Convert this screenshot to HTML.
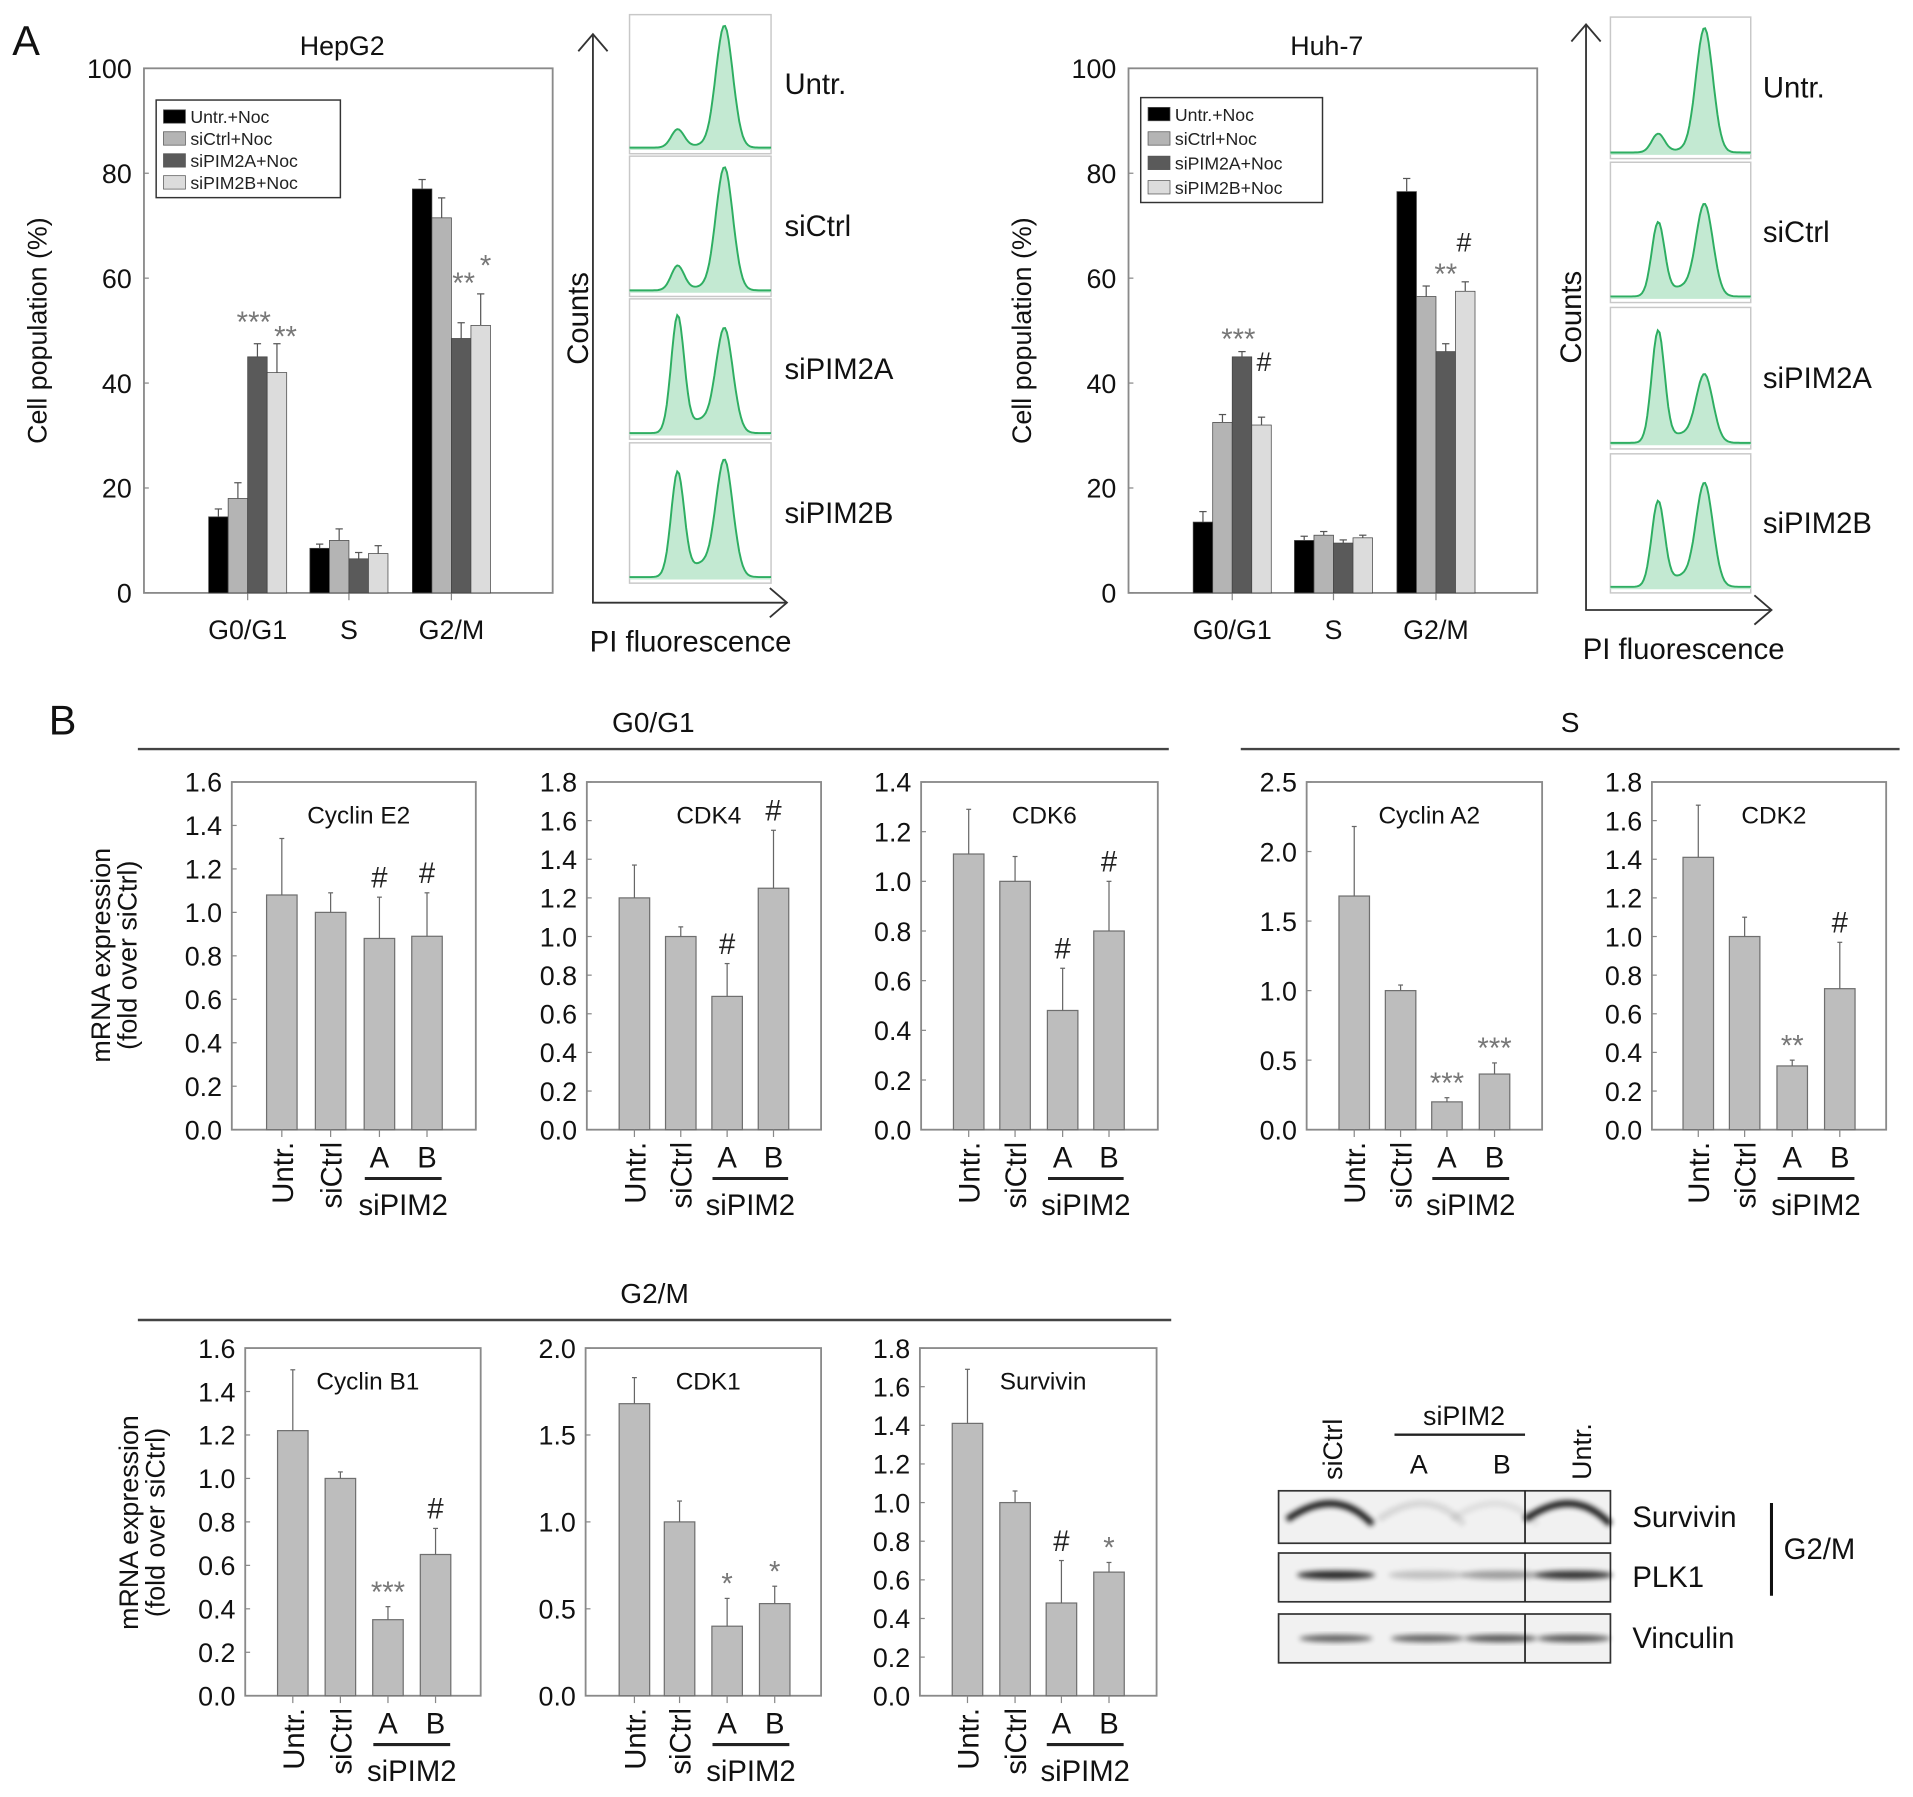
<!DOCTYPE html>
<html><head><meta charset="utf-8"><style>
html,body{margin:0;padding:0;background:#fff;}
svg{display:block;font-family:"Liberation Sans",Arial,sans-serif;}
</style></head><body>
<svg id="fig" xmlns="http://www.w3.org/2000/svg" width="1913" height="1797" viewBox="0 0 1568 1473" preserveAspectRatio="none">
<defs><filter id="blur" x="-20%" y="-50%" width="140%" height="200%"><feGaussianBlur stdDeviation="2.2"/></filter></defs>
<g id="root"></g>
</svg>
<script>
// ---------- Panel A data ----------
const phaseCategories = ['G0/G1', 'S', 'G2/M'];
const seriesNames = ['Untr.+Noc', 'siCtrl+Noc', 'siPIM2A+Noc', 'siPIM2B+Noc'];
const hepUntr = [14.5, 8.5, 77];
const hepCtrl = [18, 10, 71.5];
const hepPimA = [45, 6.5, 48.5];
const hepPimB = [42, 7.5, 51];
const hepUntrErr = [1.5, 0.8, 1.8];
const hepCtrlErr = [3, 2.2, 3.8];
const hepPimAErr = [2.5, 1.2, 3];
const hepPimBErr = [5.5, 1.5, 6];
const huhUntr = [13.5, 10, 76.5];
const huhCtrl = [32.5, 11, 56.5];
const huhPimA = [45, 9.5, 46];
const huhPimB = [32, 10.5, 57.5];
const huhUntrErr = [2, 0.8, 2.5];
const huhCtrlErr = [1.5, 0.7, 2];
const huhPimAErr = [1, 0.6, 1.5];
const huhPimBErr = [1.5, 0.5, 1.8];
const yTicksA = [0, 20, 40, 60, 80, 100];
const histSamples = ['Untr.', 'siCtrl', 'siPIM2A', 'siPIM2B'];
const hepG1Peak = [0.15, 0.2, 0.95, 0.85];
const hepG2Peak = [1.0, 1.0, 0.85, 0.95];
const huhG1Peak = [0.15, 0.6, 0.9, 0.7];
const huhG2Peak = [1.0, 0.75, 0.55, 0.85];

// ---------- Panel B data ----------
const conditions = ['Untr.', 'siCtrl', 'A', 'B'];
const cycE2 = [1.08, 1.0, 0.88, 0.89];      const cycE2Err = [0.26, 0.09, 0.19, 0.2];
const cdk4 = [1.2, 1.0, 0.69, 1.25];        const cdk4Err = [0.17, 0.05, 0.17, 0.3];
const cdk6 = [1.11, 1.0, 0.48, 0.8];        const cdk6Err = [0.18, 0.1, 0.17, 0.2];
const cycA2 = [1.68, 1.0, 0.2, 0.4];        const cycA2Err = [0.5, 0.04, 0.03, 0.08];
const cdk2 = [1.41, 1.0, 0.33, 0.73];       const cdk2Err = [0.27, 0.1, 0.03, 0.24];
const cycB1 = [1.22, 1.0, 0.35, 0.65];      const cycB1Err = [0.28, 0.03, 0.06, 0.12];
const cdk1 = [1.68, 1.0, 0.4, 0.53];        const cdk1Err = [0.15, 0.12, 0.16, 0.1];
const survivin = [1.41, 1.0, 0.48, 0.64];   const survivinErr = [0.28, 0.06, 0.22, 0.05];
const ticks16 = ['0.0','0.2','0.4','0.6','0.8','1.0','1.2','1.4','1.6'];
const ticks18 = ['0.0','0.2','0.4','0.6','0.8','1.0','1.2','1.4','1.6','1.8'];
const ticks14 = ['0.0','0.2','0.4','0.6','0.8','1.0','1.2','1.4'];
const ticks25 = ['0.0','0.5','1.0','1.5','2.0','2.5'];
const ticks20 = ['0.0','0.5','1.0','1.5','2.0'];

const NS = 'http://www.w3.org/2000/svg';
const root = document.getElementById('root');
function mk(tag, attrs, parent, txt) {
  const e = document.createElementNS(NS, tag);
  for (const k in attrs) e.setAttribute(k, attrs[k]);
  if (txt !== undefined) e.textContent = txt;
  (parent || root).appendChild(e);
  return e;
}
function label(x, y, s, size, anchor, parent, rot, fill) {
  const t = mk('text', {x: x, y: y, 'font-size': size, 'text-anchor': anchor || 'middle', fill: fill || '#111'}, parent, s);
  if (rot) t.setAttribute('transform', 'rotate(' + rot + ' ' + x + ' ' + y + ')');
  return t;
}

// ---------- Panel A bar charts ----------
const barFills = ['#000000', '#b4b4b4', '#5a5a5a', '#dcdcdc'];
function drawA(name, title, x0, x1, top, bottom, centers, series, errs, marks, legend) {
  const g = mk('g', {});
  
  
  const ys = v => bottom - v / 100 * (bottom - top);
  const t = label((x0 + x1) / 2 - 5, 45, title, 22, 'middle', g);
  
  
  mk('rect', {x: x0, y: top, width: x1 - x0, height: bottom - top, fill: 'none', stroke: '#8a8a8a', 'stroke-width': 1.5}, g);
  yTicksA.forEach(v => {
    const tk = label(x0 - 10, ys(v) + 8, String(v), 22, 'end', g);
    
    
    mk('line', {x1: x0, x2: x0 + 4, y1: ys(v), y2: ys(v), stroke: '#888'}, g);
  });
  const yt = label(x0 - 80, (top + bottom) / 2, 'Cell population (%)', 22, 'middle', g, -90);
  
  
  phaseCategories.forEach((c, i) => {
    const cx = centers[i];
    mk('line', {x1: cx, x2: cx, y1: bottom, y2: bottom + 6, stroke: '#888'}, g);
    const xl = label(cx, bottom + 38, c, 22, 'middle', g);
    
    
    series.forEach((s, j) => {
      const bx = cx - 32 + j * 16;
      const r = mk('rect', {x: bx, y: ys(s[i]), width: 16, height: bottom - ys(s[i]), fill: barFills[j], stroke: '#444', 'stroke-width': 0.6}, g);
      
      
      const ey = ys(s[i] + errs[j][i]);
      mk('line', {x1: bx + 8, x2: bx + 8, y1: ys(s[i]), y2: ey, stroke: '#555', 'stroke-width': 1}, g);
      mk('line', {x1: bx + 5, x2: bx + 11, y1: ey, y2: ey, stroke: '#555', 'stroke-width': 1}, g);
    });
  });
  marks.forEach(m => {
    const mt = label(m[0], m[1], m[2], m[2] === '#' ? 22 : 24, 'middle', g, 0, m[2] === '#' ? '#222' : '#777');
    
    
  });
  const lg = mk('g', {}, g);
  
  
  mk('rect', {x: legend[0], y: legend[1], width: legend[2], height: legend[3], fill: '#fff', stroke: '#333', 'stroke-width': 1.2}, lg);
  seriesNames.forEach((s, j) => {
    const ly = legend[1] + 8 + j * legend[4];
    mk('rect', {x: legend[0] + 6, y: ly, width: 18, height: 11, fill: barFills[j], stroke: '#555', 'stroke-width': 0.6}, lg);
    const le = label(legend[0] + 28, ly + 11, s, 14.5, 'start', lg, 0, '#222');
    
    
  });
}
drawA('hepg2-chart', 'HepG2', 118, 453, 56, 486, [203, 286, 370],
  [hepUntr, hepCtrl, hepPimA, hepPimB], [hepUntrErr, hepCtrlErr, hepPimAErr, hepPimBErr],
  [[208, 272, '***'], [234, 284, '**'], [380, 240, '**'], [398, 226, '*']], [128, 82, 151, 80, 18]);
drawA('huh7-chart', 'Huh-7', 925, 1260, 56, 486, [1010, 1093, 1177],
  [huhUntr, huhCtrl, huhPimA, huhPimB], [huhUntrErr, huhCtrlErr, huhPimAErr, huhPimBErr],
  [[1015, 286, '***'], [1036, 304, '#'], [1185, 233, '**'], [1200, 206, '#']], [935, 80, 149, 86, 20]);

// ---------- Histograms ----------
function drawHist(name, axX, axTop, axBottom, axRight, bx0, bx1, rows, g1, g2, labX) {
  const g = mk('g', {});
  
  
  mk('path', {d: 'M' + axX + ' ' + axTop + ' V' + axBottom + ' H' + axRight, fill: 'none', stroke: '#333', 'stroke-width': 1.5}, g);
  mk('path', {d: 'M' + (axX - 12) + ' ' + (axTop + 14) + ' L' + axX + ' ' + axTop + ' L' + (axX + 12) + ' ' + (axTop + 14), fill: 'none', stroke: '#333', 'stroke-width': 1.5}, g);
  mk('path', {d: 'M' + (axRight - 14) + ' ' + (axBottom - 12) + ' L' + axRight + ' ' + axBottom + ' L' + (axRight - 14) + ' ' + (axBottom + 12), fill: 'none', stroke: '#333', 'stroke-width': 1.5}, g);
  const c = label(axX - 4, (axTop + axBottom) / 2, 'Counts', 24, 'middle', g, -90);
  
  
  const p = label(axX + 80, axBottom + 40, 'PI fluorescence', 24, 'middle', g);
  
  
  histSamples.forEach((s, i) => {
    const y0 = rows[i][0], y1 = rows[i][1];
    const hg = mk('g', {}, g);
    
    
    mk('rect', {x: bx0, y: y0, width: bx1 - bx0, height: y1 - y0, fill: '#fff', stroke: '#c8c8c8', 'stroke-width': 1.2}, hg);
    const w = bx1 - bx0, h = y1 - y0 - 10, base = y1 - 3;
    let pts = [];
    for (let k = 0; k <= 80; k++) {
      const f = k / 80;
      const v = g1[i] * Math.exp(-Math.pow((f - 0.34) / 0.065, 2)) + g2[i] * Math.exp(-Math.pow((f - 0.67) / 0.085, 2)) + 0.02 + 0.06 * Math.exp(-Math.pow((f - 0.5) / 0.1, 2)) * Math.min(g1[i], g2[i]) * 2;
      pts.push((bx0 + f * w).toFixed(1) + ' ' + (base - v * (h - 4)).toFixed(1));
    }
    mk('path', {d: 'M' + pts.join(' L') + ' L' + bx1 + ' ' + base + ' L' + bx0 + ' ' + base + ' Z', fill: '#c3e9d2', stroke: 'none'}, hg);
    mk('path', {d: 'M' + pts.join(' L'), fill: 'none', stroke: '#2eae62', 'stroke-width': 1.6}, hg);
    const t = label(labX, (y0 + y1) / 2 + 8, s, 24, 'start', g);
    
    
  });
}
drawHist('hepg2-histograms', 486, 28, 494, 645, 516, 632, [[12, 126], [128, 243], [245, 360], [363, 478]], hepG1Peak, hepG2Peak, 643);
drawHist('huh7-histograms', 1300, 20, 500, 1452, 1320, 1435, [[14, 130], [133, 248], [252, 368], [372, 486]], huhG1Peak, huhG2Peak, 1445);

// panel letters
const la = label(10, 45, 'A', 34, 'start');


const lb = label(40, 602, 'B', 34, 'start');



// section headers
function section(name, x1, x2, y, s) {
  mk('line', {x1: x1, x2: x2, y1: y, y2: y, stroke: '#444', 'stroke-width': 2});
  const t = label((x1 + x2) / 2, y - 14, s, 23, 'middle');
  
  
}
section('section-g0g1', 113, 958, 614, 'G0/G1');
section('section-s', 1017, 1557, 614, 'S');
section('section-g2m', 113, 960, 1082, 'G2/M');

// ---------- Panel B charts ----------
function drawB(name, title, x0, x1, top, bottom, ymax, tickLabels, centers, vals, errs, marks) {
  const g = mk('g', {});
  
  
  const ys = v => bottom - v / ymax * (bottom - top);
  mk('rect', {x: x0, y: top, width: x1 - x0, height: bottom - top, fill: 'none', stroke: '#8a8a8a', 'stroke-width': 1.5}, g);
  tickLabels.forEach(tl => {
    const v = parseFloat(tl);
    const t = label(x0 - 8, ys(v) + 8, tl, 22, 'end', g);
    
    
    mk('line', {x1: x0, x2: x0 + 4, y1: ys(v), y2: ys(v), stroke: '#888'}, g);
  });
  const tt = label((x0 + x1) / 2 + 4, top + 34, title, 20, 'middle', g);
  
  
  conditions.forEach((c, i) => {
    const cx = centers[i];
    const r = mk('rect', {x: cx - 12.5, y: ys(vals[i]), width: 25, height: bottom - ys(vals[i]), fill: '#bdbdbd', stroke: '#6f6f6f', 'stroke-width': 1}, g);
    
    
    const ey = ys(vals[i] + errs[i]);
    mk('line', {x1: cx, x2: cx, y1: ys(vals[i]), y2: ey, stroke: '#666', 'stroke-width': 1}, g);
    mk('line', {x1: cx - 2, x2: cx + 2, y1: ey, y2: ey, stroke: '#666', 'stroke-width': 1}, g);
    mk('line', {x1: cx, x2: cx, y1: bottom, y2: bottom + 6, stroke: '#888'}, g);
    if (i < 2) {
      const t = label(cx + 9, bottom + 10, c, 24, 'end', g, -90);
      
      
    } else {
      const t = label(cx, bottom + 31, c, 24, 'middle', g);
      
      
    }
    if (marks[i]) {
      const m = marks[i];
      const mt = label(cx, ey - (m === '#' ? 8 : 4), m, 24, 'middle', g, 0, m === '#' ? '#222' : '#777');
      
      
    }
  });
  mk('line', {x1: centers[2] - 12, x2: centers[3] + 12, y1: bottom + 40, y2: bottom + 40, stroke: '#222', 'stroke-width': 2.5}, g);
  const sp = label((centers[2] + centers[3]) / 2, bottom + 70, 'siPIM2', 24, 'middle', g);
  
  
}
const r1t = 641, r1b = 926, r2t = 1105, r2b = 1390;
drawB('chart-cyclin-e2', 'Cyclin E2', 190, 390, r1t, r1b, 1.6, ticks16, [231, 271, 311, 350], cycE2, cycE2Err, ['', '', '#', '#']);
drawB('chart-cdk4', 'CDK4', 481, 673, r1t, r1b, 1.8, ticks18, [520, 558, 596, 634], cdk4, cdk4Err, ['', '', '#', '#']);
drawB('chart-cdk6', 'CDK6', 755, 949, r1t, r1b, 1.4, ticks14, [794, 832, 871, 909], cdk6, cdk6Err, ['', '', '#', '#']);
drawB('chart-cyclin-a2', 'Cyclin A2', 1071, 1264, r1t, r1b, 2.5, ticks25, [1110, 1148, 1186, 1225], cycA2, cycA2Err, ['', '', '***', '***']);
drawB('chart-cdk2', 'CDK2', 1354, 1546, r1t, r1b, 1.8, ticks18, [1392, 1430, 1469, 1508], cdk2, cdk2Err, ['', '', '**', '#']);
drawB('chart-cyclin-b1', 'Cyclin B1', 201, 394, r2t, r2b, 1.6, ticks16, [240, 279, 318, 357], cycB1, cycB1Err, ['', '', '***', '#']);
drawB('chart-cdk1', 'CDK1', 480, 673, r2t, r2b, 2.0, ticks20, [520, 557, 596, 635], cdk1, cdk1Err, ['', '', '*', '*']);
drawB('chart-survivin', 'Survivin', 754, 948, r2t, r2b, 1.8, ticks18, [793, 832, 870, 909], survivin, survivinErr, ['', '', '#', '*']);

// y-axis titles panel B
[[90, 112, 783], [113, 135, 1248]].forEach(a => {
  const t1 = label(a[0], a[2], 'mRNA expression', 22, 'middle', null, -90);
  
  
  const t2 = label(a[1], a[2], '(fold over siCtrl)', 22, 'middle', null, -90);
  
  
});

// ---------- Western blot ----------
const wb = mk('g', {});


const blotRows = [['Survivin', 1222, 1265], ['PLK1', 1273, 1313], ['Vinculin', 1323, 1363]];
const lanes = [1095, 1170, 1230, 1290];
blotRows.forEach((r, ri) => {
  mk('rect', {x: 1048, y: r[1], width: 272, height: r[2] - r[1], fill: '#f1f1f1', stroke: '#333', 'stroke-width': 1.4}, wb);
  mk('line', {x1: 1250, x2: 1250, y1: r[1], y2: r[2], stroke: '#222', 'stroke-width': 1.4}, wb);
  const my = (r[1] + r[2]) / 2;
  lanes.forEach((lx, li) => {
    let op;
    if (ri === 0) { op = [0.95, 0.12, 0.08, 0.95][li];
      mk('path', {d: 'M' + (lx - 40) + ' ' + (my + 2) + ' Q' + lx + ' ' + (my - 26) + ' ' + (lx + 30) + ' ' + (my + 6), fill: 'none', stroke: '#000', 'stroke-width': 5, opacity: op, filter: 'url(#blur)'}, wb);
    } else if (ri === 1) { op = [0.85, 0.2, 0.35, 0.8][li];
      mk('ellipse', {cx: lx, cy: my - 2, rx: 32, ry: 3.5, fill: '#000', opacity: op, filter: 'url(#blur)'}, wb);
    } else { op = [0.6, 0.6, 0.65, 0.65][li];
      mk('ellipse', {cx: lx, cy: my, rx: 30, ry: 3, fill: '#000', opacity: op, filter: 'url(#blur)'}, wb);
    }
  });
  const t = label(1338, my + 8, r[0], 24, 'start', wb);
  
  
});
mk('line', {x1: 1452, x2: 1452, y1: 1232, y2: 1308, stroke: '#111', 'stroke-width': 2.5}, wb);
const gm = label(1462, 1278, 'G2/M', 24, 'start', wb);


const wl1 = label(1100, 1213, 'siCtrl', 22, 'start', wb, -90);


const wl4 = label(1304, 1213, 'Untr.', 22, 'start', wb, -90);


const wsp = label(1200, 1168, 'siPIM2', 22, 'middle', wb);


mk('line', {x1: 1143, x2: 1250, y1: 1176, y2: 1176, stroke: '#222', 'stroke-width': 2}, wb);
const wa = label(1163, 1208, 'A', 22, 'middle', wb);


const wbb = label(1231, 1208, 'B', 22, 'middle', wb);


</script>
</body></html>
